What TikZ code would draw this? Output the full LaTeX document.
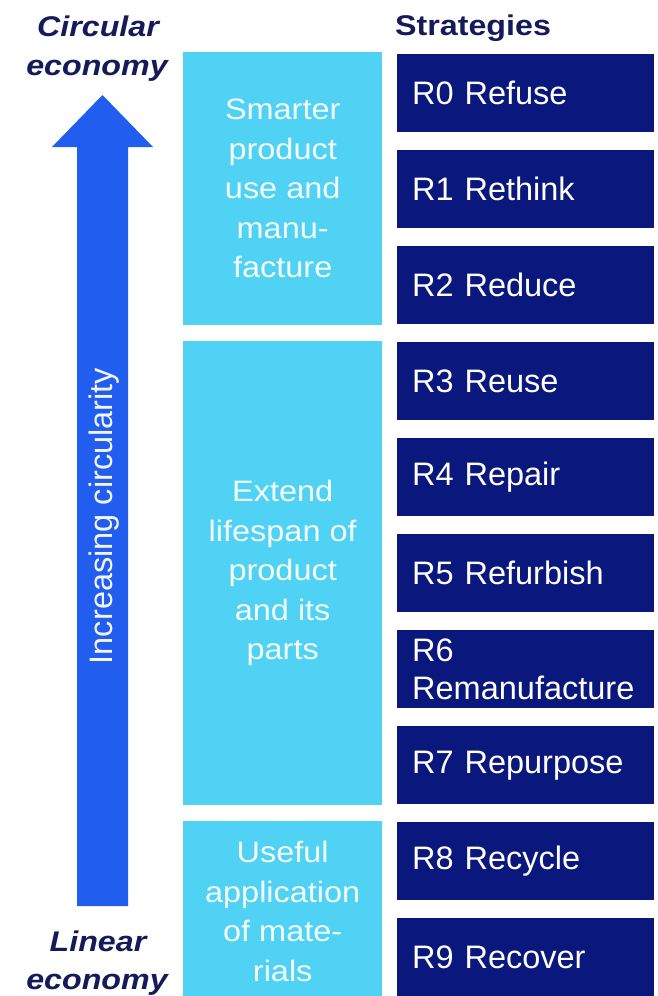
\documentclass[tikz,border=0pt]{standalone}
\usepackage{fontspec}
\setmainfont{Liberation Sans}
\newfontfamily\lightfont[FakeStretch=1.1]{Liberation Sans}
\newfontfamily\labelfont[FakeStretch=1.13]{Liberation Sans}
\definecolor{navytext}{RGB}{20,26,90}
\definecolor{stratnavy}{RGB}{10,24,125}
\definecolor{lightcyan}{RGB}{80,210,245}
\definecolor{arrowblue}{RGB}{33,94,240}
\begin{document}
\begin{tikzpicture}[x=1pt,y=-1pt,
  darkbox/.style={fill=stratnavy, text=white, minimum width=257pt, minimum height=78pt,
    inner xsep=15pt, inner ysep=0pt, text width=227pt, align=left, anchor=north west,
    font=\fontsize{32.5}{38}\selectfont},
  lightbox/.style={fill=lightcyan, minimum width=199pt, anchor=north west, inner sep=0pt},
  lighttext/.style={text=white!94!lightcyan, align=center, inner sep=0pt, font=\lightfont\fontsize{29.5}{39.5}\selectfont},
  headlabel/.style={text=navytext, inner sep=0pt, anchor=base, font=\labelfont\bfseries\itshape\fontsize{28.5}{39}\selectfont},
  arrowtext/.style={text=white!94!arrowblue, rotate=90, inner sep=0pt, font=\fontsize{32.5}{38}\selectfont}]
\useasboundingbox (0,0) rectangle (658,996);
\fill[white] (0,0) rectangle (658,996);

% arrow
\fill[arrowblue] (77,906) -- (77,147) -- (52,147) -- (102.5,95) -- (153,147) -- (128,147) -- (128,906) -- cycle;
\node[arrowtext] (inc) at (104,516) {Increasing circularity};

% head labels
\node[headlabel] (circ1) at (98,36) {Circular};
\node[headlabel] (circ2) at (97,75) {economy};
\node[headlabel] (lin1) at (98,951) {Linear};
\node[headlabel] (lin2) at (97,989) {economy};
\node[text=navytext, inner sep=0pt, anchor=base west, font=\labelfont\bfseries\fontsize{28.5}{34}\selectfont] (strat) at (395,35) {Strategies};

% light boxes
\node[lightbox, minimum height=273pt] (g1) at (183,52) {};
\node[lightbox, minimum height=464pt] (g2) at (183,341) {};
\node[lightbox, minimum height=176pt] (g3) at (183,821) {};
\node[lighttext] (g1t) at (g1.center) {Smarter\\product\\use and\\manu-\\facture};
\node[lighttext] (g2t) at (g2.center) {Extend\\lifespan of\\product\\and its\\parts};
\node[lighttext] (g3t) at ([yshift=-2pt]g3.center) {Useful\\application\\of mate-\\rials};

% strategy boxes
\node[darkbox] (r0) at (397,54) {R0 Refuse};
\node[darkbox] (r1) at (397,150) {R1 Rethink};
\node[darkbox] (r2) at (397,246) {R2 Reduce};
\node[darkbox] (r3) at (397,342) {R3 Reuse};
\node[darkbox] (r4) at (397,438) {R4 Repair};
\node[darkbox] (r5) at (397,534) {R5 Refurbish};
\node[darkbox] (r6) at (397,630) {R6\\Remanufacture};
\node[darkbox] (r7) at (397,726) {R7 Repurpose};
\node[darkbox] (r8) at (397,822) {R8 Recycle};
\node[darkbox] (r9) at (397,918) {R9 Recover};
\end{tikzpicture}
\end{document}
